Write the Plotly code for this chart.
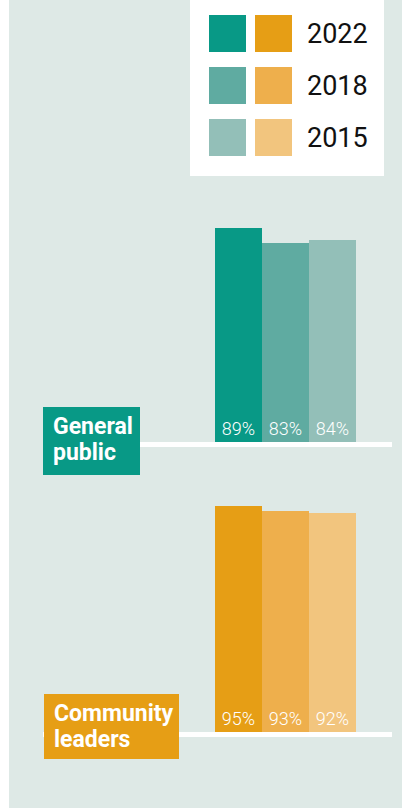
import plotly.graph_objects as go

# ---- data ----
years = ["2022", "2018", "2015"]
public_values = [89, 83, 84]
leaders_values = [95, 93, 92]
group_labels = [["General", "public"], ["Community", "leaders"]]

teal_colors = ["#089986", "#5faba1", "#93bfb8"]
orange_colors = ["#e69e15", "#eeaf4c", "#f2c57e"]

# ---- canvas helpers (pixel -> paper) ----
W, H = 402, 808


def px(x):
    return x / W


def py(y):
    return 1 - y / H


BG = "#dee9e6"
FONT = "Roboto"
value_font = dict(color="white", size=18, family=FONT, weight=300)

fig = go.Figure()

fig.add_trace(go.Bar(
    x=years, y=public_values, xaxis="x", yaxis="y",
    marker=dict(color=teal_colors, line=dict(width=0)),
    text=[f"{v}%" for v in public_values],
    textposition="inside", insidetextanchor="start",
    insidetextfont=value_font,
    hoverinfo="skip", showlegend=False,
))
fig.add_trace(go.Bar(
    x=years, y=leaders_values, xaxis="x2", yaxis="y2",
    marker=dict(color=orange_colors, line=dict(width=0)),
    text=[f"{v}%" for v in leaders_values],
    textposition="inside", insidetextanchor="start",
    insidetextfont=value_font,
    hoverinfo="skip", showlegend=False,
))

hidden = dict(showticklabels=False, showgrid=False, zeroline=False,
              showline=False, ticks="", fixedrange=True)

shapes = []
# panel background
shapes.append(dict(type="rect", xref="paper", yref="paper", layer="below",
                   x0=px(9), x1=px(402), y0=py(808), y1=py(0),
                   fillcolor=BG, line=dict(width=0)))
# baselines
for y_line in (444.5, 734.5):
    shapes.append(dict(type="line", xref="paper", yref="paper", layer="below",
                       x0=px(43), x1=px(392), y0=py(y_line), y1=py(y_line),
                       line=dict(color="white", width=5)))

annotations = []

# group label boxes
label_boxes = [
    dict(x0=43, x1=140, y0=407, y1=475, color=teal_colors[0], lines=(426, 452)),
    dict(x0=44, x1=179, y0=694, y1=759, color=orange_colors[0], lines=(713, 739)),
]
for box, words in zip(label_boxes, group_labels):
    shapes.append(dict(type="rect", xref="paper", yref="paper", layer="above",
                       x0=px(box["x0"]), x1=px(box["x1"]),
                       y0=py(box["y1"]), y1=py(box["y0"]),
                       fillcolor=box["color"], line=dict(width=0)))
    for word, yc in zip(words, box["lines"]):
        annotations.append(dict(
            text=f"<b>{word}</b>", xref="paper", yref="paper",
            x=px(box["x0"] + 8), y=py(yc), xanchor="left", yanchor="middle",
            showarrow=False, font=dict(family=FONT, size=23, color="white"),
        ))

# legend panel: one teal and one orange swatch per year
shapes.append(dict(type="rect", xref="paper", yref="paper", layer="above",
                   x0=px(190), x1=px(384), y0=py(176), y1=py(-2),
                   fillcolor="white", line=dict(width=0)))
for i, (yr, tc, oc) in enumerate(zip(years, teal_colors, orange_colors)):
    top = 15 + 52 * i
    for x0, col in ((209, tc), (255, oc)):
        shapes.append(dict(type="rect", xref="paper", yref="paper", layer="above",
                           x0=px(x0), x1=px(x0 + 37), y0=py(top + 37), y1=py(top),
                           fillcolor=col, line=dict(width=0)))
    annotations.append(dict(
        text=yr, xref="paper", yref="paper", x=px(305), y=py(top + 19),
        xanchor="left", yanchor="middle", showarrow=False,
        font=dict(family=FONT, size=27, color="#111111"),
    ))

fig.update_layout(
    width=W, height=H,
    margin=dict(l=0, r=0, t=0, b=0),
    paper_bgcolor="white", plot_bgcolor="rgba(0,0,0,0)",
    bargap=0, bargroupgap=0,
    xaxis=dict(domain=[px(215), px(356)], anchor="y", type="category", **hidden),
    yaxis=dict(domain=[py(442), py(202)], range=[0, 100], anchor="x", **hidden),
    xaxis2=dict(domain=[px(215), px(356)], anchor="y2", type="category", **hidden),
    yaxis2=dict(domain=[py(732), py(494)], range=[0, 100], anchor="x2", **hidden),
    shapes=shapes,
    annotations=annotations,
    font=dict(family=FONT),
    uniformtext=dict(minsize=18, mode="show"),
)

fig.write_html("out.html", config={"displayModeBar": False})
